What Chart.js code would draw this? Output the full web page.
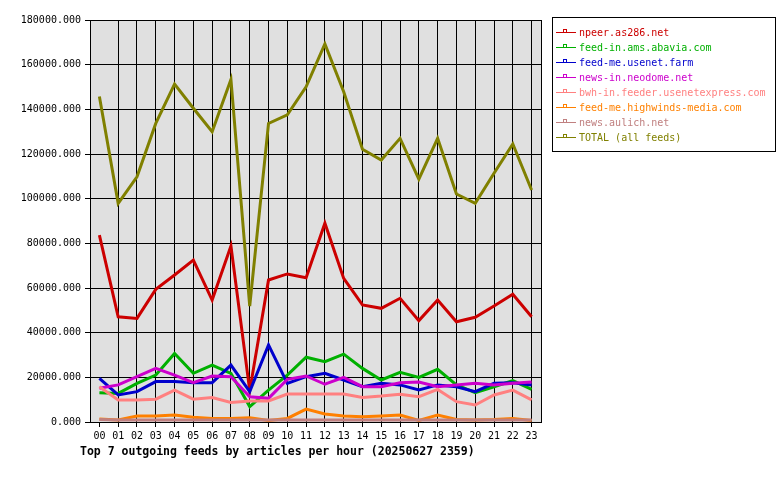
<!DOCTYPE html>
<html>
<head>
<meta charset="utf-8">
<script src="https://cdn.jsdelivr.net/npm/chart.js@4"></script>
<style>
  html, body { margin: 0; padding: 0; background: #fff; }
  #wrap { width: 780px; height: 480px; }
</style>
</head>
<body>
<div id="wrap"><canvas id="feedChart" width="780" height="480"></canvas></div>
<script>
const hours = ['00','01','02','03','04','05','06','07','08','09','10','11',
               '12','13','14','15','16','17','18','19','20','21','22','23'];

const npeer    = [83700, 47100, 46400, 59400, 65800, 72500, 54600, 78800, 14000, 63600, 66300, 64600,
                  89000, 64300, 52400, 50900, 55400, 45400, 54600, 44900, 46900, 51900, 57200, 47100];
const abavia   = [13100, 12800, 17300, 21000, 30700, 21800, 25500, 21800, 6900, 14300, 21000, 29000,
                  27000, 30400, 24000, 18800, 22200, 20000, 23600, 16600, 13100, 15800, 18500, 14600];
const usenetFarm = [19500, 12100, 13600, 18100, 18100, 17600, 17600, 25500, 13600, 34500, 17300, 20300,
                  21800, 18800, 15800, 17300, 16600, 14300, 16600, 15800, 13600, 17300, 17600, 16600];
const neodome  = [15100, 16600, 20300, 24000, 21000, 17600, 20600, 20300, 11300, 10600, 19100, 20600,
                  16900, 20000, 15800, 15800, 17600, 17900, 15800, 16600, 17300, 16600, 17300, 17900];
const usenetexpress = [15800, 9900, 9900, 10200, 14300, 10200, 11000, 8700, 9400, 9400, 12500, 12500,
                  12500, 12500, 11000, 11600, 12400, 11300, 14600, 9100, 7600, 12100, 14300, 9900];
const highwinds = [1300, 900, 2700, 2700, 3100, 2100, 1600, 1600, 1900, 700, 1600, 5800,
                  3600, 2700, 2400, 2700, 3100, 700, 3100, 1100, 900, 1100, 1600, 700];
const aulich   = [1100, 900, 900, 900, 900, 900, 900, 900, 900, 900, 900, 900,
                  900, 900, 900, 900, 900, 900, 900, 900, 900, 900, 900, 900];
const total    = [145700, 97900, 109800, 133700, 151300, 140500, 130000, 153400, 51900, 133700, 137500, 150100,
                  169300, 147900, 122100, 117300, 127000, 108700, 127000, 102100, 97900, 111400, 124500, 103900];

const yTicksMax = 180000;
const yTickStep = 20000;

const series = [
  { label: 'npeer.as286.net',                 data: npeer,         color: '#cc0000' },
  { label: 'feed-in.ams.abavia.com',          data: abavia,        color: '#00b000' },
  { label: 'feed-me.usenet.farm',             data: usenetFarm,    color: '#0000cc' },
  { label: 'news-in.neodome.net',             data: neodome,       color: '#cc00cc' },
  { label: 'bwh-in.feeder.usenetexpress.com', data: usenetexpress, color: '#ff8080' },
  { label: 'feed-me.highwinds-media.com',     data: highwinds,     color: '#ff8000' },
  { label: 'news.aulich.net',                 data: aulich,        color: '#c08080' },
  { label: 'TOTAL (all feeds)',               data: total,         color: '#808000' }
];

const MONO = '"DejaVu Sans Mono", "Liberation Mono", monospace';

// gray plot area + black frame
const plotFrame = {
  id: 'plotFrame',
  beforeDraw(chart) {
    const { ctx, chartArea: a } = chart;
    ctx.save();
    ctx.fillStyle = '#e0e0e0';
    ctx.fillRect(a.left, a.top, a.right - a.left, a.bottom - a.top);
    ctx.restore();
  },
  afterDraw(chart) {
    const { ctx, chartArea: a } = chart;
    ctx.save();
    ctx.strokeStyle = '#000';
    ctx.lineWidth = 1;
    ctx.strokeRect(Math.round(a.left) + 0.5, Math.round(a.top) + 0.5,
                   Math.round(a.right - a.left), Math.round(a.bottom - a.top));
    ctx.restore();
  }
};

// boxed legend on the right + title under the x axis
const boxLegend = {
  id: 'boxLegend',
  afterDraw(chart) {
    const ctx = chart.ctx;
    ctx.save();
    ctx.strokeStyle = '#000';
    ctx.lineWidth = 1;
    ctx.strokeRect(552.5, 17.5, 223, 134);
    ctx.font = '10px ' + MONO;
    ctx.textBaseline = 'middle';
    chart.data.datasets.forEach((ds, i) => {
      const y = 32 + i * 15;
      ctx.strokeStyle = ds.borderColor;
      ctx.beginPath();
      ctx.moveTo(556, y + 0.5);
      ctx.lineTo(576, y + 0.5);
      ctx.stroke();
      ctx.strokeRect(563.5, y - 2.5, 3, 3);
      ctx.fillStyle = ds.borderColor;
      ctx.fillText(ds.label, 579, y + 1);
    });
    ctx.fillStyle = '#000';
    ctx.font = 'bold 11.5px ' + MONO;
    ctx.fillText('Top 7 outgoing feeds by articles per hour (20250627 2359)', 80, 452);
    ctx.restore();
  }
};

const ctx = document.getElementById('feedChart').getContext('2d');
const chart = new Chart(ctx, {
  type: 'line',
  data: {
    labels: hours,
    datasets: series.map((s, i) => ({
      label: s.label,
      data: s.data,
      borderColor: s.color,
      backgroundColor: s.color,
      borderWidth: 3,
      pointRadius: 0,
      tension: 0,
      fill: false,
      order: series.length - i
    }))
  },
  options: {
    responsive: false,
    animation: false,
    layout: { padding: { top: 20, right: 239, left: 0, bottom: 0 } },
    plugins: {
      legend: { display: false },
      tooltip: { enabled: false },
      title: { display: false }
    },
    scales: {
      x: {
        offset: true,
        afterFit: (s) => { s.height = 58; },
        border: { color: '#000' },
        grid: {
          color: (c) => c.index === 0 ? 'rgba(0,0,0,0)' : '#000',
          tickColor: '#000',
          tickLength: 5,
          offset: false
        },
        ticks: {
          color: '#000',
          font: { family: MONO, size: 10 },
          padding: 3,
          maxRotation: 0,
          autoSkip: false
        }
      },
      y: {
        min: 0,
        max: yTicksMax,
        afterFit: (s) => { s.width = 90; },
        border: { color: '#000' },
        grid: { color: '#000', tickColor: '#000', tickLength: 5 },
        ticks: {
          stepSize: yTickStep,
          color: '#000',
          font: { family: MONO, size: 10 },
          padding: 4,
          callback: (v) => v.toFixed(3)
        }
      }
    }
  },
  plugins: [plotFrame, boxLegend]
});
</script>
</body>
</html>
